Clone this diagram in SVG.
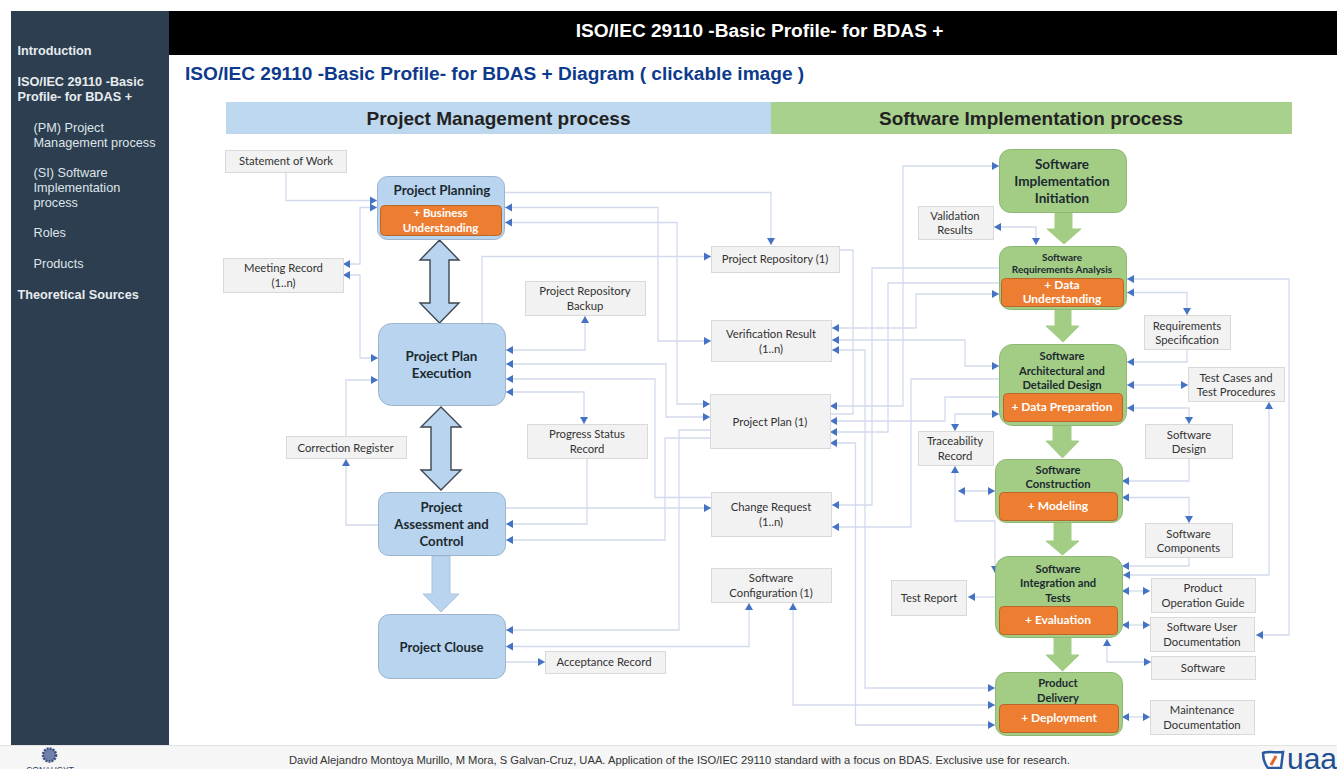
<svg xmlns="http://www.w3.org/2000/svg" width="1337" height="769" viewBox="0 0 1337 769">
<style>
text{font-family:Lato,"Liberation Sans",sans-serif}
.sb,.hd,.h2,.ft,.bar{font-family:"Liberation Sans",Arial,sans-serif}
.sb{font-size:12.700px;fill:#dfe4e8}
.sbb{font-weight:bold;fill:#e8ecef}
.hd{font-size:19.100px;font-weight:bold;fill:#fff;text-anchor:middle}
.h2{font-size:19.100px;font-weight:bold;fill:#0d3a8c}
.ft{font-size:11.200px;fill:#333}
.bar{font-size:19px;font-weight:bold;fill:#222;text-anchor:middle}
.bx{fill:#f2f2f2;stroke:#d9d9d9;stroke-width:1}
.bt{font-size:11.300px;fill:#333;text-anchor:middle}
.pm{fill:#b9d4ee;stroke:#9db4cc;stroke-width:1}
.si{fill:#a3cd85;stroke:#8db874;stroke-width:1}
.or{fill:#ed7d31;stroke:#b8682c;stroke-width:1}
.nt{font-weight:bold;fill:#1c2a30;text-anchor:middle}
.ot{font-size:12px;font-weight:bold;fill:#fff;text-anchor:middle}
.c path{fill:none;stroke:#d3daee;stroke-width:1.300}
.a1{fill:#b9d4ee;stroke:#3d4650;stroke-width:1.400}
.a2{fill:#b9d4ee;stroke:#a9c4de;stroke-width:1}
.a3{fill:#a3cd85;stroke:#a3cd85;stroke-width:1}
</style>
<defs>
<marker id="e" markerUnits="userSpaceOnUse" markerWidth="8" markerHeight="9" refX="7" refY="4.500" orient="auto-start-reverse"><path d="M0 0.500L7 4.500L0 8.500Z" fill="#4472c4"/></marker>
</defs>
<rect width="1337" height="769" fill="#fff"/>
<g id="sidebar">
<rect x="11" y="11" width="158" height="734" fill="#2c3e50"/>
<text class="sb sbb" x="17.500" y="55">Introduction</text>
<text class="sb sbb" x="17.500" y="86">ISO/IEC 29110 -Basic</text>
<text class="sb sbb" x="17.500" y="101">Profile- for BDAS +</text>
<text class="sb" x="33.500" y="132">(PM) Project</text>
<text class="sb" x="33.500" y="147">Management process</text>
<text class="sb" x="33.500" y="177">(SI) Software</text>
<text class="sb" x="33.500" y="192">Implementation</text>
<text class="sb" x="33.500" y="207">process</text>
<text class="sb" x="33.500" y="237">Roles</text>
<text class="sb" x="33.500" y="268">Products</text>
<text class="sb sbb" x="17.500" y="299">Theoretical Sources</text>
</g>
<g id="header">
<rect x="169" y="11" width="1168" height="44" fill="#000"/>
<text class="hd" x="759.500" y="37">ISO/IEC 29110 -Basic Profile- for BDAS +</text>
<text class="h2" x="185" y="80">ISO/IEC 29110 -Basic Profile- for BDAS + Diagram ( clickable image )</text>
</g>
<g id="process-bars">
<rect x="226" y="102" width="545" height="32" fill="#bdd7ee"/>
<rect x="771" y="102" width="521" height="32" fill="#a9d18e"/>
<text class="bar" x="498.500" y="125">Project Management process</text>
<text class="bar" x="1031" y="125">Software Implementation process</text>
</g>
<g id="block-arrows">
<path class="a1" d="M439.500 240L459 260H449V303H459L439.500 323L420 303H430V260H420Z"/>
<path class="a1" d="M441 407L461 427H451V470H461L441 490L421 470H431V427H421Z"/>
<path class="a2" d="M432 556H450V594H459L441 612L423 594H432Z"/>
<path class="a3" d="M1055 213H1072V229H1081L1064 244L1047 229H1055Z"/>
<path class="a3" d="M1055 310H1071V326H1079L1063 342L1046 326H1055Z"/>
<path class="a3" d="M1053 426H1071V441H1079L1062.500 458L1046 441H1053Z"/>
<path class="a3" d="M1054 523H1071V541H1079L1062.500 555L1046 541H1054Z"/>
<path class="a3" d="M1054 638H1071V655H1079L1062.500 671L1046 655H1054Z"/>
</g>
<g id="connectors" class="c">
<path d="M286 173V200.500H377" marker-end="url(#e)"/>
<path d="M377 207.500H360V264H343" marker-start="url(#e)" marker-end="url(#e)"/>
<path d="M343 275H360V358H378" marker-start="url(#e)" marker-end="url(#e)"/>
<path d="M346 436V380H378" marker-end="url(#e)"/>
<path d="M378 525H346V459" marker-end="url(#e)"/>
<path d="M504 192.500H771V245" marker-end="url(#e)"/>
<path d="M505 207.500H658V341H711" marker-start="url(#e)" marker-end="url(#e)"/>
<path d="M505 222.500H677V404H710" marker-start="url(#e)" marker-end="url(#e)"/>
<path d="M482 323V256.500H711" marker-end="url(#e)"/>
<path d="M506 350H585V316" marker-start="url(#e)" marker-end="url(#e)"/>
<path d="M506 364H666V417H710" marker-start="url(#e)" marker-end="url(#e)"/>
<path d="M506 379H655V497.500H711" marker-start="url(#e)"/>
<path d="M506 392H584V424" marker-start="url(#e)" marker-end="url(#e)"/>
<path d="M587 459V524H506" marker-end="url(#e)"/>
<path d="M506 508H711" marker-end="url(#e)"/>
<path d="M710 438H665V540H506" marker-end="url(#e)"/>
<path d="M710 430H679V630H506" marker-end="url(#e)"/>
<path d="M506 646.500H749V603" marker-start="url(#e)" marker-end="url(#e)"/>
<path d="M506 662H545" marker-end="url(#e)"/>
<path d="M839 250H853V414H830"/>
<path d="M830 406H903V166H999" marker-start="url(#e)" marker-end="url(#e)"/>
<path d="M830 421H945V397H999" marker-start="url(#e)"/>
<path d="M830 432H888V283H999" marker-start="url(#e)"/>
<path d="M830 443H855.500V725H995" marker-start="url(#e)" marker-end="url(#e)"/>
<path d="M832 328H916V294H999" marker-start="url(#e)" marker-end="url(#e)"/>
<path d="M832 340H965V366H999" marker-start="url(#e)" marker-end="url(#e)"/>
<path d="M832 350H865V688H995" marker-start="url(#e)" marker-end="url(#e)"/>
<path d="M832 505H872V268H999" marker-start="url(#e)"/>
<path d="M832 527H911V379H999" marker-start="url(#e)"/>
<path d="M793 603V705H995" marker-start="url(#e)" marker-end="url(#e)"/>
<path d="M994 227H1036V245" marker-start="url(#e)" marker-end="url(#e)"/>
<path d="M999 414H955V431" marker-start="url(#e)" marker-end="url(#e)"/>
<path d="M955 466V521H995V573" marker-start="url(#e)" marker-end="url(#e)"/>
<path d="M958 491H995" marker-start="url(#e)" marker-end="url(#e)"/>
<path d="M995 597H968" marker-end="url(#e)"/>
<path d="M1127 279H1289V635H1256" marker-start="url(#e)" marker-end="url(#e)"/>
<path d="M1127 292.500H1187V315" marker-start="url(#e)" marker-end="url(#e)"/>
<path d="M1187 350V362H1127" marker-end="url(#e)"/>
<path d="M1127 385H1188" marker-start="url(#e)" marker-end="url(#e)"/>
<path d="M1127 408H1189V424" marker-start="url(#e)" marker-end="url(#e)"/>
<path d="M1269 402V575H1123" marker-start="url(#e)" marker-end="url(#e)"/>
<path d="M1189 459V481H1122" marker-end="url(#e)"/>
<path d="M1122 497.500H1189V523" marker-start="url(#e)" marker-end="url(#e)"/>
<path d="M1189 558V566H1122" marker-end="url(#e)"/>
<path d="M1122 591H1150" marker-start="url(#e)" marker-end="url(#e)"/>
<path d="M1122 625H1150" marker-start="url(#e)" marker-end="url(#e)"/>
<path d="M1107 639V662H1151" marker-start="url(#e)" marker-end="url(#e)"/>
<path d="M1122 717H1150" marker-start="url(#e)" marker-end="url(#e)"/>
</g>
<g id="statement-of-work"><rect class="bx" x="225.500" y="150.500" width="121" height="22"/><text class="bt" x="286" y="165">Statement of Work</text></g>
<g id="meeting-record"><rect class="bx" x="223.500" y="258.500" width="120" height="34"/><text class="bt" x="283.500" y="272">Meeting Record</text><text class="bt" x="283.500" y="287">(1..n)</text></g>
<g id="project-repository-backup"><rect class="bx" x="525.500" y="281.500" width="120" height="34"/><text class="bt" x="585" y="295">Project Repository</text><text class="bt" x="585" y="310">Backup</text></g>
<g id="progress-status-record"><rect class="bx" x="527.500" y="424.500" width="120" height="34"/><text class="bt" x="587" y="438">Progress Status</text><text class="bt" x="587" y="453">Record</text></g>
<g id="correction-register"><rect class="bx" x="286.500" y="436.500" width="120" height="22"/><text class="bt" x="345.500" y="452">Correction Register</text></g>
<g id="acceptance-record"><rect class="bx" x="545.500" y="651.500" width="120" height="22"/><text class="bt" x="604" y="666">Acceptance Record</text></g>
<g id="project-repository"><rect class="bx" x="711.500" y="246.500" width="128" height="26"/><text class="bt" x="775" y="263">Project Repository (1)</text></g>
<g id="verification-result"><rect class="bx" x="711.500" y="320.500" width="120" height="41"/><text class="bt" x="771" y="338">Verification Result</text><text class="bt" x="771" y="353">(1..n)</text></g>
<g id="project-plan"><rect class="bx" x="710.500" y="394.500" width="120" height="54"/><text class="bt" x="770" y="426">Project Plan (1)</text></g>
<g id="change-request"><rect class="bx" x="711.500" y="492.500" width="120" height="44"/><text class="bt" x="771" y="511">Change Request</text><text class="bt" x="771" y="526">(1..n)</text></g>
<g id="software-configuration"><rect class="bx" x="711.500" y="568.500" width="120" height="34"/><text class="bt" x="771" y="582">Software</text><text class="bt" x="771" y="597">Configuration (1)</text></g>
<g id="validation-results"><rect class="bx" x="918.500" y="206.500" width="75" height="33"/><text class="bt" x="955" y="220">Validation</text><text class="bt" x="955" y="234">Results</text></g>
<g id="traceability-record"><rect class="bx" x="918.500" y="431.500" width="75" height="34"/><text class="bt" x="955" y="445">Traceability</text><text class="bt" x="955" y="460">Record</text></g>
<g id="test-report"><rect class="bx" x="891.500" y="580.500" width="75" height="35"/><text class="bt" x="929" y="602">Test Report</text></g>
<g id="requirements-specification"><rect class="bx" x="1144.500" y="315.500" width="86" height="34"/><text class="bt" x="1187" y="330">Requirements</text><text class="bt" x="1187" y="344">Specification</text></g>
<g id="test-cases"><rect class="bx" x="1188.500" y="367.500" width="96" height="34"/><text class="bt" x="1236" y="382">Test Cases and</text><text class="bt" x="1236" y="396">Test Procedures</text></g>
<g id="software-design"><rect class="bx" x="1145.500" y="424.500" width="87" height="34"/><text class="bt" x="1189" y="439">Software</text><text class="bt" x="1189" y="453">Design</text></g>
<g id="software-components"><rect class="bx" x="1145.500" y="523.500" width="87" height="34"/><text class="bt" x="1188.500" y="538">Software</text><text class="bt" x="1188.500" y="552">Components</text></g>
<g id="product-operation-guide"><rect class="bx" x="1151.500" y="578.500" width="104" height="34"/><text class="bt" x="1203" y="592">Product</text><text class="bt" x="1203" y="607">Operation Guide</text></g>
<g id="software-user-documentation"><rect class="bx" x="1150.500" y="617.500" width="104" height="34"/><text class="bt" x="1202" y="631">Software User</text><text class="bt" x="1202" y="646">Documentation</text></g>
<g id="software"><rect class="bx" x="1151.500" y="656.500" width="104" height="23"/><text class="bt" x="1203" y="672">Software</text></g>
<g id="maintenance-documentation"><rect class="bx" x="1150.500" y="700.500" width="104" height="34"/><text class="bt" x="1202" y="714">Maintenance</text><text class="bt" x="1202" y="729">Documentation</text></g>
<g id="project-planning"><rect class="pm" x="377.500" y="176.500" width="127" height="63" rx="10"/><text class="nt" font-size="13.300" x="442" y="195">Project Planning</text><rect class="or" x="380.500" y="205.500" width="121" height="30" rx="4"/><text class="ot" x="440.500" y="217" style="font-size:11.500px">+ Business</text><text class="ot" x="440.500" y="232" style="font-size:11.500px">Understanding</text></g>
<g id="project-plan-execution"><rect class="pm" x="378.500" y="323.500" width="127" height="82" rx="13"/><text class="nt" font-size="13.400" x="441.500" y="361">Project Plan</text><text class="nt" font-size="13.400" x="441.500" y="378">Execution</text></g>
<g id="project-assessment"><rect class="pm" x="378.500" y="492.500" width="127" height="63" rx="10"/><text class="nt" font-size="13.200" x="441.500" y="512">Project</text><text class="nt" font-size="13.200" x="441.500" y="529">Assessment and</text><text class="nt" font-size="13.200" x="441.500" y="546">Control</text></g>
<g id="project-clouse"><rect class="pm" x="378.500" y="614.500" width="127" height="64" rx="11"/><text class="nt" font-size="13" x="441.500" y="652">Project Clouse</text></g>
<g id="software-implementation-initiation"><rect class="si" x="999.500" y="149.500" width="127" height="63" rx="11"/><text class="nt" font-size="13.500" x="1062" y="169">Software</text><text class="nt" font-size="13.500" x="1062" y="186">Implementation</text><text class="nt" font-size="13.500" x="1062" y="203">Initiation</text></g>
<g id="software-requirements-analysis"><rect class="si" x="999.500" y="246.500" width="127" height="63" rx="11"/><text class="nt" font-size="10" x="1062" y="261">Software</text><text class="nt" font-size="10" x="1062" y="273">Requirements Analysis</text><rect class="or" x="1001.500" y="278.500" width="122" height="28" rx="4"/><text class="ot" x="1062" y="289">+ Data</text><text class="ot" x="1062" y="303">Understanding</text></g>
<g id="software-architectural-design"><rect class="si" x="999.500" y="344.500" width="127" height="81" rx="13"/><text class="nt" font-size="11.200" x="1062" y="360">Software</text><text class="nt" font-size="11.200" x="1062" y="375">Architectural and</text><text class="nt" font-size="11.200" x="1062" y="389">Detailed  Design</text><rect class="or" x="1003.500" y="393.500" width="119" height="28" rx="4"/><text class="ot" x="1062" y="411">+ Data Preparation</text></g>
<g id="software-construction"><rect class="si" x="995.500" y="459.500" width="127" height="63" rx="11"/><text class="nt" font-size="11.200" x="1058" y="474">Software</text><text class="nt" font-size="11.200" x="1058" y="488">Construction</text><rect class="or" x="999.500" y="492.500" width="118" height="28" rx="4"/><text class="ot" x="1058" y="510">+ Modeling</text></g>
<g id="software-integration"><rect class="si" x="995.500" y="556.500" width="127" height="81" rx="13"/><text class="nt" font-size="11.200" x="1058" y="573">Software</text><text class="nt" font-size="11.200" x="1058" y="587">Integration and</text><text class="nt" font-size="11.200" x="1058" y="602">Tests</text><rect class="or" x="999.500" y="606.500" width="118" height="28" rx="4"/><text class="ot" x="1058" y="624">+ Evaluation</text></g>
<g id="product-delivery"><rect class="si" x="995.500" y="672.500" width="127" height="63" rx="11"/><text class="nt" font-size="11.200" x="1058" y="687">Product</text><text class="nt" font-size="11.200" x="1058" y="702">Delivery</text><rect class="or" x="999.500" y="704.500" width="119" height="28" rx="4"/><text class="ot" x="1059" y="722">+ Deployment</text></g>
<g id="footer">
<rect x="0" y="745" width="1337" height="24" fill="#f6f6f6"/>
<line x1="0" y1="745.500" x2="1337" y2="745.500" stroke="#e2e2e2"/>
<circle cx="49.500" cy="755" r="6.500" fill="#6f80ab" stroke="#3d4f7f" stroke-width="2.500" stroke-dasharray="2 1"/>
<text x="50" y="773" font-size="8.500" fill="#2f3f66" text-anchor="middle" style="font-family:'Liberation Sans',sans-serif">CONAHCYT</text>
<text class="ft" x="289" y="764">David Alejandro Montoya Murillo, M Mora, S Galvan-Cruz, UAA. Application of the ISO/IEC 29110 standard with a focus on BDAS. Exclusive use for research.</text>
<path d="M1263 753C1268 751 1277 753 1283 752L1281 768H1268C1264 763 1263 758 1263 753Z" fill="#fff" stroke="#2c5aa0" stroke-width="2.500"/>
<path d="M1276 756L1271 765" stroke="#e8622a" stroke-width="3"/>
<text x="1287" y="769" font-size="30" style="font-family:'Liberation Sans',sans-serif" fill="#1e4f91">uaa</text>
</g>
</svg>
